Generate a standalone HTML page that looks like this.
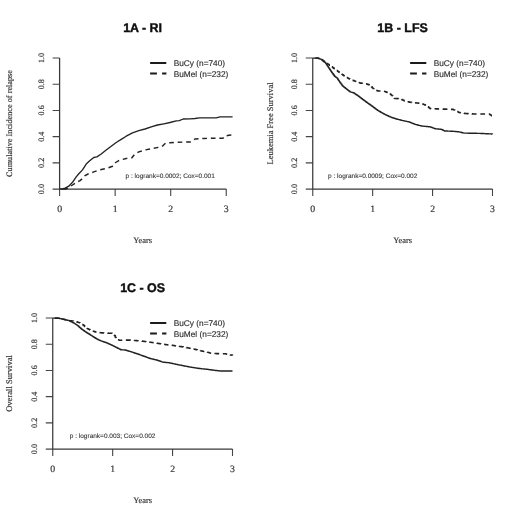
<!DOCTYPE html>
<html lang="en">
<head>
<meta charset="utf-8">
<title>Figure 1 - RI, LFS, OS</title>
<style>
html,body{margin:0;padding:0;background:#fff;}
body{width:520px;height:520px;overflow:hidden;}
svg{display:block;}
.ax{fill:none;stroke:#383838;stroke-width:1.25;}
.tk{fill:none;stroke:#444;stroke-width:1.1;}
.cs{fill:none;stroke:#242424;stroke-width:1.4;stroke-linejoin:round;}
.cs.thin{stroke-width:1.35;}
.cd.thin{stroke-width:1.45;}
.lgl{fill:none;stroke:#1a1a1a;stroke-width:1.95;}
.cd{fill:none;stroke:#242424;stroke-width:1.6;stroke-linejoin:round;stroke-dasharray:4.7 3.8;}
text{text-rendering:geometricPrecision;font-family:"Liberation Serif",serif;fill:#333;stroke:#333;stroke-width:0.18;}
.yt{font-size:8.2px;text-anchor:middle;}
.xt{font-size:9.8px;text-anchor:middle;}
.yl{font-size:8.45px;text-anchor:middle;}
.xl{font-size:8.45px;text-anchor:middle;}
.ti{font-family:"Liberation Sans",sans-serif;font-weight:bold;font-size:12.45px;text-anchor:middle;fill:#111;stroke:#111;stroke-width:0.4;}
.lg{font-family:"Liberation Sans",sans-serif;font-size:8.3px;fill:#2e2e2e;stroke:#2e2e2e;stroke-width:0.15;}
.pt{font-family:"Liberation Sans",sans-serif;font-size:6.5px;fill:#333;stroke-width:0.1;text-anchor:middle;}
</style>
</head>
<body>
<svg width="520" height="520" viewBox="0 0 520 520">
<defs><filter id="soft" x="0" y="0" width="520" height="520" filterUnits="userSpaceOnUse"><feGaussianBlur stdDeviation="0.38"/></filter></defs>
<rect width="520" height="520" fill="#fff"/>
<g filter="url(#soft)">
<path class="tk" d="M52.60,58.00H59.60M52.60,84.22H59.60M52.60,110.44H59.60M52.60,136.66H59.60M52.60,162.88H59.60M52.60,189.10H59.60M59.60,189.10v6.8M115.15,189.10v6.8M170.70,189.10v6.8M226.25,189.10v6.8"/>
<path class="ax" d="M59.60,58.00V189.10M59.60,189.10H226.25"/>
<text class="yt" transform="translate(44.2,58.0) rotate(-90)">1.0</text>
<text class="yt" transform="translate(44.2,84.2) rotate(-90)">0.8</text>
<text class="yt" transform="translate(44.2,110.4) rotate(-90)">0.6</text>
<text class="yt" transform="translate(44.2,136.7) rotate(-90)">0.4</text>
<text class="yt" transform="translate(44.2,162.9) rotate(-90)">0.2</text>
<text class="yt" transform="translate(44.2,189.1) rotate(-90)">0.0</text>
<text class="xt" x="59.6" y="211.7">0</text>
<text class="xt" x="115.2" y="211.7">1</text>
<text class="xt" x="170.7" y="211.7">2</text>
<text class="xt" x="226.2" y="211.7">3</text>
<text class="yl" style="font-size:8.25px" transform="translate(12.2,123.5) rotate(-90)">Cumulative Incidence of relapse</text>
<text class="xl" x="142.6" y="243.0">Years</text>
<text class="ti" x="142.6" y="31.5">1A - RI</text>
<polyline class="cs thin" points="59.6,189.0 62.5,189.0 65.0,188.1 68.8,186.2 72.5,182.3 76.2,176.9 78.8,173.8 82.5,169.9 86.2,164.1 90.0,160.6 93.8,157.5 96.9,156.9 101.2,154.0 106.2,150.0 111.2,146.2 116.2,142.5 121.2,139.4 126.2,136.2 132.5,132.8 138.8,130.6 145.0,129.0 151.2,126.9 157.5,125.0 163.8,123.8 170.0,122.5 176.2,120.9 179.4,120.6 183.1,119.0 190.0,118.8 195.0,118.5 199.4,117.8 216.2,117.8 220.0,116.9 232.6,116.9"/>
<polyline class="cd thin" stroke-dashoffset="-3.7" points="59.6,189.0 65.5,189.0 68.8,187.5 72.5,185.0 76.2,182.5 80.0,180.6 83.1,178.1 85.0,175.6 88.1,174.0 93.8,171.9 100.0,169.8 107.5,168.1 112.5,166.2 115.6,162.5 118.8,160.6 122.5,159.4 126.2,158.5 131.9,157.8 135.0,153.8 138.8,151.9 145.0,150.0 152.5,148.4 161.2,146.9 163.1,145.6 165.6,143.1 170.0,142.8 177.5,142.2 190.0,142.0 192.5,140.6 195.0,139.0 203.8,138.5 212.5,138.2 223.1,138.2 224.4,136.2 228.8,135.2 232.6,134.8"/>
<path class="lgl" d="M150.1,63.0h16.2"/>
<path class="lgl" d="M150.1,73.5h6.8m5.2,0h4.3"/>
<text class="lg" x="173.7" y="66.0">BuCy (n=740)</text>
<text class="lg" x="173.7" y="76.6">BuMel (n=232)</text>
<text class="pt" x="170.2" y="177.5">p : logrank=0.0002; Cox=0.001</text>
<path class="tk" d="M305.75,58.00H312.75M305.75,84.22H312.75M305.75,110.44H312.75M305.75,136.66H312.75M305.75,162.88H312.75M305.75,189.10H312.75M312.75,189.10v6.8M372.67,189.10v6.8M432.58,189.10v6.8M492.50,189.10v6.8"/>
<path class="ax" d="M312.75,58.00V189.10M312.75,189.10H492.50"/>
<text class="yt" transform="translate(297.4,58.0) rotate(-90)">1.0</text>
<text class="yt" transform="translate(297.4,84.2) rotate(-90)">0.8</text>
<text class="yt" transform="translate(297.4,110.4) rotate(-90)">0.6</text>
<text class="yt" transform="translate(297.4,136.7) rotate(-90)">0.4</text>
<text class="yt" transform="translate(297.4,162.9) rotate(-90)">0.2</text>
<text class="yt" transform="translate(297.4,189.1) rotate(-90)">0.0</text>
<text class="xt" x="312.8" y="211.7">0</text>
<text class="xt" x="372.7" y="211.7">1</text>
<text class="xt" x="432.6" y="211.7">2</text>
<text class="xt" x="492.5" y="211.7">3</text>
<text class="yl" style="font-size:8.5px" transform="translate(272.7,123.5) rotate(-90)">Leukemia Free Survival</text>
<text class="xl" x="402.6" y="243.0">Years</text>
<text class="ti" x="402.6" y="31.5">1B - LFS</text>
<path class="cs" d="M312.75,58.10H317.50H318.25V58.36H319.00V58.62H319.75V58.88H320.50V59.14H321.25V59.40H322.00V60.02H322.75V60.64H323.50V61.26H324.25V61.88H325.00V62.50H325.75V63.62H326.50V64.74H327.25V65.86H328.00V66.98H328.75V68.10H329.50V69.23H330.25V70.36H331.00V71.49H331.75V72.62H332.50V73.75H333.45V75.00H334.40V76.25H335.23V76.87H336.07V77.48H336.90V78.10H337.67V79.26H338.45V80.42H339.23V81.59H340.00V82.75H340.83V83.83H341.67V84.92H342.50V86.00H343.25V86.60H344.00V87.20H344.75V87.80H345.50V88.40H346.25V89.00H347.00V89.58H347.75V90.16H348.50V90.74H349.25V91.32H350.00V91.90H350.77V92.11H351.55V92.33H352.33V92.54H353.10V92.75H353.98V93.32H354.86V93.89H355.74V94.46H356.62V95.03H357.50V95.60H358.33V96.23H359.17V96.87H360.00V97.50H360.83V98.13H361.67V98.77H362.50V99.40H363.28V99.98H364.06V100.55H364.84V101.12H365.62V101.70H366.41V102.28H367.19V102.85H367.97V103.42H368.75V104.00H369.58V104.57H370.42V105.13H371.25V105.70H372.03V106.29H372.81V106.88H373.59V107.46H374.38V108.05H375.16V108.64H375.94V109.23H376.72V109.81H377.50V110.40H378.28V110.85H379.06V111.30H379.84V111.75H380.62V112.20H381.41V112.65H382.19V113.10H382.97V113.55H383.75V114.00H384.53V114.36H385.31V114.72H386.09V115.09H386.88V115.45H387.66V115.81H388.44V116.18H389.22V116.54H390.00V116.90H390.78V117.16H391.56V117.43H392.34V117.69H393.12V117.95H393.91V118.21H394.69V118.47H395.47V118.74H396.25V119.00H397.03V119.20H397.81V119.40H398.59V119.60H399.38V119.80H400.16V120.00H400.94V120.20H401.72V120.40H402.50V120.60H403.28V120.76H404.06V120.92H404.84V121.09H405.62V121.25H406.41V121.41H407.19V121.58H407.97V121.74H408.75V121.90H409.53V122.21H410.31V122.53H411.09V122.84H411.88V123.15H412.66V123.46H413.44V123.78H414.22V124.09H415.00V124.40H415.78V124.60H416.56V124.80H417.34V125.00H418.12V125.20H418.91V125.40H419.69V125.60H420.47V125.80H421.25V126.00H422.05V126.08H422.84V126.16H423.64V126.25H424.43V126.33H425.23V126.41H426.02V126.49H426.82V126.57H427.61V126.65H428.41V126.74H429.20V126.82H430.00V126.90H430.83V127.21H431.67V127.52H432.50V127.83H433.33V128.13H434.17V128.44H435.00V128.75H435.78V128.83H436.56V128.91H437.34V128.99H438.12V129.07H438.91V129.16H439.69V129.24H440.47V129.32H441.25V129.40H442.04V129.80H442.82V130.20H443.61V130.60H444.40V131.00H445.21V131.03H446.02V131.05H446.83V131.07H447.64V131.10H448.45V131.12H449.26V131.15H450.07V131.18H450.88V131.20H451.69V131.22H452.50V131.25H453.28V131.33H454.06V131.41H454.84V131.49H455.62V131.57H456.41V131.66H457.19V131.74H457.97V131.82H458.75V131.90H459.58V132.10H460.42V132.30H461.25V132.50H462.08V132.70H462.92V132.90H463.75V133.10H464.56V133.12H465.38V133.13H466.19V133.14H467.00V133.16H467.81V133.18H468.62V133.19H469.44V133.20H470.25V133.22H471.06V133.24H471.88V133.25H472.69V133.26H473.50V133.28H474.31V133.30H475.12V133.31H475.94V133.32H476.75V133.34H477.56V133.36H478.38V133.37H479.19V133.38H480.00V133.40H480.78V133.44H481.56V133.49H482.34V133.53H483.12V133.57H483.91V133.62H484.69V133.66H485.47V133.71H486.25V133.75H487.03V133.78H487.81V133.81H488.59V133.84H489.38V133.88H490.16V133.91H490.94V133.94H491.72V133.97H492.50V134.00"/>
<path class="cd" stroke-dashoffset="-2.5" d="M312.75,58.10H317.50H318.25V58.36H319.00V58.62H319.75V58.88H320.50V59.14H321.25V59.40H322.00V60.02H322.75V60.64H323.50V61.26H324.25V61.88H325.00V62.50H325.83V63.02H326.67V63.53H327.50V64.05H328.33V64.57H329.17V65.08H330.00V65.60H330.83V66.23H331.67V66.87H332.50V67.50H333.33V68.13H334.17V68.77H335.00V69.40H335.83V70.02H336.67V70.63H337.50V71.25H338.33V71.87H339.17V72.48H340.00V73.10H340.83V73.68H341.67V74.27H342.50V74.85H343.33V75.43H344.17V76.02H345.00V76.60H345.83V77.07H346.67V77.53H347.50V78.00H348.33V78.47H349.17V78.93H350.00V79.40H350.83V79.71H351.67V80.02H352.50V80.33H353.33V80.63H354.17V80.94H355.00V81.25H355.83V81.56H356.67V81.87H357.50V82.17H358.33V82.48H359.17V82.79H360.00V83.10H360.83V83.17H361.67V83.23H362.50V83.30H363.33V83.37H364.17V83.43H365.00V83.50H365.83V83.79H366.67V84.08H367.50V84.38H368.33V84.67H369.17V84.96H370.00V85.25H370.75V86.08H371.50V86.91H372.25V87.74H373.00V88.57H373.75V89.40H374.50V89.70H375.25V90.00H376.00V90.30H376.75V90.60H377.50V90.90H378.28V90.94H379.06V90.99H379.84V91.03H380.62V91.08H381.41V91.12H382.19V91.16H382.97V91.21H383.75V91.25H384.58V91.56H385.42V91.87H386.25V92.17H387.08V92.48H387.92V92.79H388.75V93.10H389.54V93.72H390.32V94.35H391.11V94.97H391.90V95.60H392.73V96.57H393.57V97.53H394.40V98.50H395.20V98.54H396.00V98.57H396.80V98.61H397.60V98.64H398.40V98.68H399.20V98.71H400.00V98.75H400.83V99.17H401.67V99.58H402.50V100.00H403.33V100.42H404.17V100.83H405.00V101.25H405.83V101.42H406.67V101.58H407.50V101.75H408.33V101.92H409.17V102.08H410.00V102.25H410.80V102.34H411.61V102.43H412.41V102.52H413.21V102.61H414.02V102.70H414.82V102.79H415.62V102.88H416.43V102.96H417.23V103.05H418.04V103.14H418.84V103.23H419.64V103.32H420.45V103.41H421.25V103.50H422.08V103.85H422.92V104.20H423.75V104.55H424.58V104.90H425.42V105.25H426.25V105.60H427.00V106.20H427.75V106.80H428.50V107.40H429.25V108.00H430.00V108.60H430.83V108.63H431.67V108.67H432.50V108.70H433.33V108.73H434.17V108.77H435.00V108.80H435.83V108.83H436.67V108.87H437.50V108.90H438.33V108.93H439.17V108.97H440.00V109.00H440.78V109.03H441.56V109.05H442.34V109.08H443.12V109.10H443.91V109.12H444.69V109.15H445.47V109.17H446.25V109.20H447.03V109.23H447.81V109.25H448.59V109.28H449.38V109.30H450.16V109.33H450.94V109.35H451.72V109.38H452.50V109.40H453.27V109.70H454.05V110.00H454.83V110.30H455.60V110.60H456.39V111.07H457.18V111.55H457.96V112.03H458.75V112.50H459.53V112.62H460.31V112.75H461.09V112.88H461.88V113.00H462.66V113.12H463.44V113.25H464.22V113.38H465.00V113.50H465.80V113.55H466.59V113.59H467.39V113.64H468.18V113.68H468.98V113.73H469.77V113.77H470.57V113.82H471.36V113.86H472.16V113.91H472.95V113.95H473.75V114.00H488.75H489.58V114.53H490.42V115.07H491.25V115.60H492.20V116.60"/>
<path class="lgl" d="M410.1,63.0h16.2"/>
<path class="lgl" d="M410.1,73.5h6.8m5.2,0h4.3"/>
<text class="lg" x="433.7" y="66.0">BuCy (n=740)</text>
<text class="lg" x="433.7" y="76.6">BuMel (n=232)</text>
<text class="pt" x="372.7" y="178.4">p : logrank=0.0009; Cox=0.002</text>
<path class="tk" d="M45.75,318.00H52.75M45.75,344.22H52.75M45.75,370.44H52.75M45.75,396.66H52.75M45.75,422.88H52.75M45.75,449.10H52.75M52.75,449.10v6.8M112.67,449.10v6.8M172.58,449.10v6.8M232.50,449.10v6.8"/>
<path class="ax" d="M52.75,318.00V449.10M52.75,449.10H232.50"/>
<text class="yt" transform="translate(37.4,318.0) rotate(-90)">1.0</text>
<text class="yt" transform="translate(37.4,344.2) rotate(-90)">0.8</text>
<text class="yt" transform="translate(37.4,370.4) rotate(-90)">0.6</text>
<text class="yt" transform="translate(37.4,396.7) rotate(-90)">0.4</text>
<text class="yt" transform="translate(37.4,422.9) rotate(-90)">0.2</text>
<text class="yt" transform="translate(37.4,449.1) rotate(-90)">0.0</text>
<text class="xt" x="52.8" y="471.7">0</text>
<text class="xt" x="112.7" y="471.7">1</text>
<text class="xt" x="172.6" y="471.7">2</text>
<text class="xt" x="232.5" y="471.7">3</text>
<text class="yl" style="font-size:8.55px" transform="translate(12.1,383.5) rotate(-90)">Overall Survival</text>
<text class="xl" x="142.6" y="503.0">Years</text>
<text class="ti" x="142.6" y="291.5">1C - OS</text>
<path class="cs" d="M52.75,318.10H57.50H58.33V318.27H59.17V318.43H60.00V318.60H60.83V318.77H61.67V318.93H62.50V319.10H63.28V319.29H64.06V319.48H64.84V319.66H65.62V319.85H66.41V320.04H67.19V320.23H67.97V320.41H68.75V320.60H69.58V321.02H70.42V321.43H71.25V321.85H72.08V322.27H72.92V322.68H73.75V323.10H74.50V323.60H75.25V324.10H76.00V324.60H76.75V325.10H77.50V325.60H78.25V326.28H79.00V326.96H79.75V327.64H80.50V328.32H81.25V329.00H82.08V329.58H82.92V330.17H83.75V330.75H84.58V331.33H85.42V331.92H86.25V332.50H87.08V333.02H87.92V333.53H88.75V334.05H89.58V334.57H90.42V335.08H91.25V335.60H92.08V336.12H92.92V336.65H93.75V337.18H94.58V337.70H95.42V338.23H96.25V338.75H97.00V339.12H97.75V339.49H98.50V339.86H99.25V340.23H100.00V340.60H100.78V340.87H101.56V341.14H102.34V341.41H103.12V341.68H103.91V341.94H104.69V342.21H105.47V342.48H106.25V342.75H107.08V343.12H107.92V343.50H108.75V343.88H109.58V344.25H110.42V344.62H111.25V345.00H112.08V345.42H112.92V345.83H113.75V346.25H114.58V346.67H115.42V347.08H116.25V347.50H117.12V347.95H117.99V348.40H118.86V348.85H119.73V349.30H120.60V349.75H121.33V349.79H122.07V349.83H122.80V349.88H123.53V349.92H124.27V349.96H125.00V350.00H125.78V350.24H126.56V350.48H127.34V350.71H128.12V350.95H128.91V351.19H129.69V351.42H130.47V351.66H131.25V351.90H132.03V352.16H132.81V352.42H133.59V352.69H134.38V352.95H135.16V353.21H135.94V353.48H136.72V353.74H137.50V354.00H138.28V354.28H139.06V354.56H139.84V354.84H140.62V355.12H141.41V355.41H142.19V355.69H142.97V355.97H143.75V356.25H144.53V356.53H145.31V356.81H146.09V357.09H146.88V357.38H147.66V357.66H148.44V357.94H149.22V358.22H150.00V358.50H150.78V358.69H151.56V358.88H152.34V359.06H153.12V359.25H153.91V359.44H154.69V359.62H155.47V359.81H156.25V360.00H157.03V360.26H157.81V360.52H158.59V360.79H159.38V361.05H160.16V361.31H160.94V361.58H161.72V361.84H162.50V362.10H163.28V362.18H164.06V362.26H164.84V362.34H165.62V362.43H166.41V362.51H167.19V362.59H167.97V362.67H168.75V362.75H169.58V362.93H170.42V363.12H171.25V363.30H172.08V363.48H172.92V363.67H173.75V363.85H174.58V364.03H175.42V364.22H176.25V364.40H177.03V364.55H177.81V364.70H178.59V364.85H179.38V365.00H180.16V365.15H180.94V365.30H181.72V365.45H182.50V365.60H183.28V365.76H184.06V365.93H184.84V366.09H185.62V366.25H186.41V366.41H187.19V366.57H187.97V366.74H188.75V366.90H189.53V367.02H190.31V367.15H191.09V367.27H191.88V367.40H192.66V367.52H193.44V367.65H194.22V367.77H195.00V367.90H195.78V368.01H196.56V368.11H197.34V368.22H198.12V368.32H198.91V368.43H199.69V368.54H200.47V368.64H201.25V368.75H202.03V368.83H202.81V368.91H203.59V368.99H204.38V369.07H205.16V369.16H205.94V369.24H206.72V369.32H207.50V369.40H208.28V369.51H209.06V369.61H209.84V369.72H210.62V369.82H211.41V369.93H212.19V370.04H212.97V370.14H213.75V370.25H214.53V370.34H215.31V370.44H216.09V370.53H216.88V370.62H217.66V370.72H218.44V370.81H219.22V370.91H220.00V371.00H232.50"/>
<path class="cd" stroke-dashoffset="-2" d="M52.75,318.10H57.50H58.33V318.27H59.17V318.43H60.00V318.60H60.83V318.77H61.67V318.93H62.50V319.10H63.28V319.29H64.06V319.48H64.84V319.66H65.62V319.85H66.41V320.04H67.19V320.23H67.97V320.41H68.75V320.60H69.53V320.68H70.31V320.76H71.09V320.84H71.88V320.93H72.66V321.01H73.44V321.09H74.22V321.17H75.00V321.25H75.83V321.56H76.67V321.87H77.50V322.18H78.33V322.48H79.17V322.79H80.00V323.10H80.75V323.60H81.50V324.10H82.25V324.60H83.00V325.10H83.75V325.60H84.58V326.43H85.42V327.27H86.25V328.10H87.00V328.48H87.75V328.86H88.50V329.24H89.25V329.62H90.00V330.00H90.83V330.32H91.67V330.63H92.50V330.95H93.33V331.27H94.17V331.58H95.00V331.90H95.83V332.04H96.67V332.18H97.50V332.32H98.33V332.47H99.17V332.61H100.00V332.75H100.78V332.79H101.56V332.84H102.34V332.88H103.12V332.93H103.91V332.97H104.69V333.01H105.47V333.06H106.25V333.10H107.00V333.13H107.75V333.16H108.50V333.19H109.25V333.21H110.00V333.24H110.75V333.27H111.50V333.30H112.22V333.88H112.95V334.45H113.68V335.03H114.40V335.60H115.33V337.50H116.25V339.40H117.04V339.61H117.83V339.82H118.61V340.04H119.40V340.25H120.18V340.24H120.96V340.23H121.74V340.21H122.52V340.20H123.30V340.19H124.08V340.18H124.85V340.16H125.63V340.15H126.41V340.14H127.19V340.12H127.97V340.11H128.75V340.10H129.53V340.16H130.31V340.21H131.09V340.27H131.88V340.33H132.66V340.38H133.44V340.44H134.22V340.49H135.00V340.55H135.78V340.61H136.56V340.66H137.34V340.72H138.12V340.77H138.91V340.83H139.69V340.89H140.47V340.94H141.25V341.00H142.03V341.11H142.81V341.23H143.59V341.34H144.38V341.45H145.16V341.56H145.94V341.67H146.72V341.79H147.50V341.90H148.28V342.01H149.06V342.11H149.84V342.22H150.62V342.32H151.41V342.43H152.19V342.54H152.97V342.64H153.75V342.75H154.53V342.88H155.31V343.00H156.09V343.12H156.88V343.25H157.66V343.38H158.44V343.50H159.22V343.62H160.00V343.75H160.78V343.88H161.56V344.00H162.34V344.12H163.12V344.25H163.91V344.38H164.69V344.50H165.47V344.62H166.25V344.75H167.00V344.80H167.75V344.85H168.50V344.90H169.25V344.95H170.00V345.00H170.78V345.12H171.56V345.25H172.34V345.38H173.12V345.50H173.91V345.62H174.69V345.75H175.47V345.88H176.25V346.00H177.03V346.11H177.81V346.23H178.59V346.34H179.38V346.45H180.16V346.56H180.94V346.67H181.72V346.79H182.50V346.90H183.28V347.05H184.06V347.20H184.84V347.35H185.62V347.50H186.41V347.65H187.19V347.80H187.97V347.95H188.75V348.10H189.53V348.26H190.31V348.43H191.09V348.59H191.88V348.75H192.66V348.91H193.44V349.07H194.22V349.24H195.00V349.40H195.78V349.60H196.56V349.80H197.34V350.00H198.12V350.20H198.91V350.40H199.69V350.60H200.47V350.80H201.25V351.00H202.03V351.16H202.81V351.31H203.59V351.47H204.38V351.62H205.16V351.78H205.94V351.94H206.72V352.09H207.50V352.25H208.25V352.50H209.00V352.75H209.75V353.00H210.50V353.25H211.25V353.50H212.06V353.51H212.87V353.53H213.68V353.54H214.49V353.56H215.29V353.57H216.10V353.59H216.91V353.60H217.72V353.62H218.53V353.63H219.34V353.65H220.15V353.66H220.96V353.68H221.76V353.69H222.57V353.71H223.38V353.72H224.19V353.74H225.00V353.75H225.75V353.95H226.50V354.15H227.25V354.35H228.00V354.55H228.75V354.75H229.50V354.85H230.25V354.95H231.00V355.05H231.75V355.15H232.50V355.25"/>
<path class="lgl" d="M150.1,323.0h16.2"/>
<path class="lgl" d="M150.1,333.5h6.8m5.2,0h4.3"/>
<text class="lg" x="173.7" y="326.0">BuCy (n=740)</text>
<text class="lg" x="173.7" y="336.6">BuMel (n=232)</text>
<text class="pt" x="112.6" y="438.4">p : logrank=0.003; Cox=0.002</text>
</g>
</svg>
</body>
</html>
